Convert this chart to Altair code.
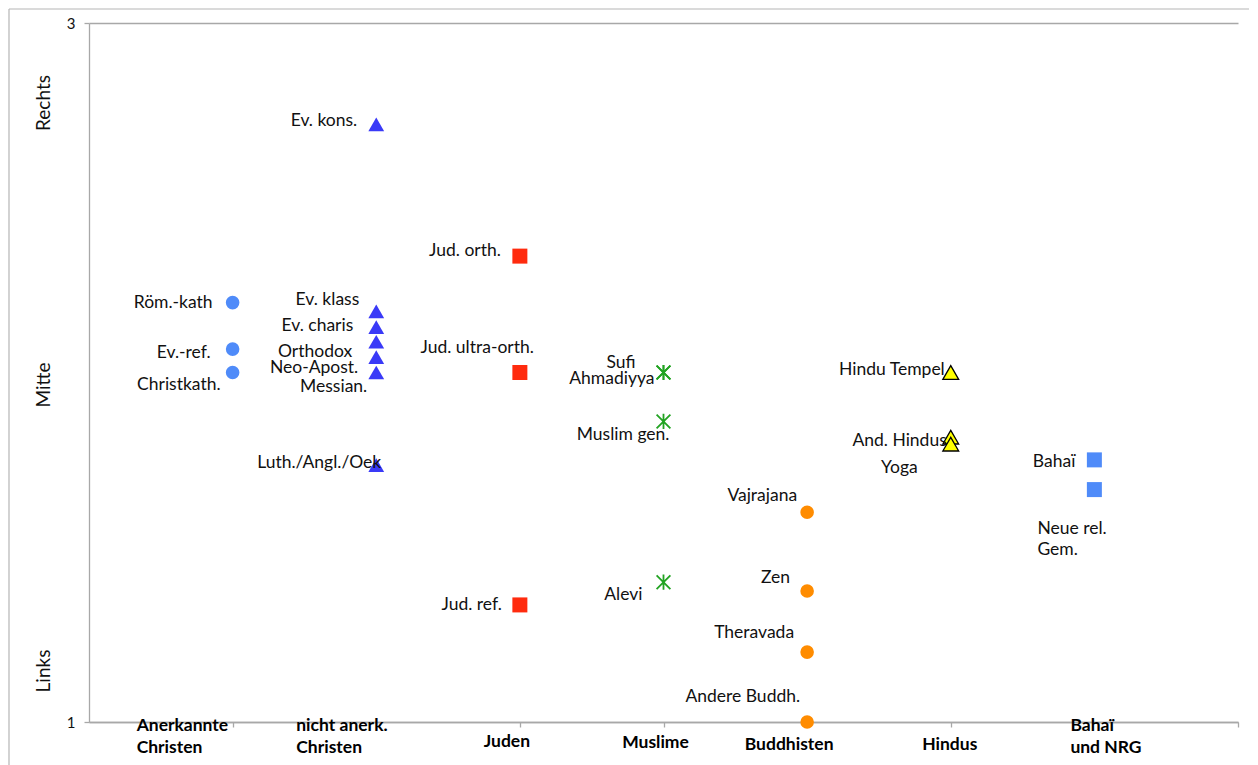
import altair as alt
import pandas as pd

# ---- data ----
names = ["Röm.-kath", "Ev.-ref.", "Christkath.",
         "Ev. kons.", "Ev. klass", "Ev. charis", "Orthodox", "Neo-Apost.", "Messian.", "Luth./Angl./Oek",
         "Jud. orth.", "Jud. ultra-orth.", "Jud. ref.",
         "Sufi", "Ahmadiyya", "Muslim gen.", "Alevi",
         "Vajrajana", "Zen", "Theravada", "Andere Buddh.",
         "Hindu Tempel", "And. Hindus", "Yoga",
         "Bahaï", "Neue rel.\nGem."]
group_idx = [1, 1, 1,
             2, 2, 2, 2, 2, 2, 2,
             3, 3, 3,
             4, 4, 4, 4,
             5, 5, 5, 5,
             6, 6, 6,
             7, 7]
values = [2.20, 2.067, 2.00,
          2.71, 2.175, 2.13, 2.088, 2.044, 2.00, 1.735,
          2.333, 2.00, 1.335,
          2.00, 2.00, 1.86, 1.40,
          1.60, 1.375, 1.20, 1.00,
          2.00, 1.815, 1.795,
          1.75, 1.665]
# label offsets (pixels) relative to their point
label_dx = [-20, -22, -12,
            -19, -17, -23, -24, -18, -9, 5,
            -19, 14, -18,
            -28, -9, 6, -21,
            -10, -17, -13, -7,
            -6, -4, -33,
            -19, -57]
label_dy = [0, 4, 12,
            -3, -11, -1, 10, 11, 14, -2,
            -5, -25, 0,
            -10, 6, 14, 13,
            -16, -13, -19, -25,
            -3, 4, 24,
            2, 39]
label_align = ["right"] * 25 + ["left"]

categories = ["Anerkannte\nChristen", "nicht anerk.\nChristen", "Juden", "Muslime",
              "Buddhisten", "Hindus", "Bahaï\nund NRG"]
cat_x = [1, 2, 3, 4, 5, 6, 7]
cat_dx = [-96, -80, -13, -8, -18, -1, -24]
cat_dy = [3.5, 3.5, 20, 21, 23, 23, 4]
cat_align = ["left", "left", "center", "center", "center", "center", "left"]

side_titles = ["Rechts", "Mitte", "Links"]
y_ticks = [1, 2, 3]
x_ticks = [1, 3, 4, 6, 8]

W, H = 1149, 699
X_DOM, Y_DOM = [0, 8], [1, 3]
PX_X = W / (X_DOM[1] - X_DOM[0])   # pixels per x unit
PX_Y = H / (Y_DOM[1] - Y_DOM[0])   # pixels per y unit

# ---- tables ----
pts = pd.DataFrame({"name": names, "x": group_idx, "y": values,
                    "dx": label_dx, "dy": label_dy, "align": label_align})
cats = pd.DataFrame({"cat": categories, "x": cat_x, "y": [1] * len(cat_x),
                     "dx": cat_dx, "dy": cat_dy, "align": cat_align})

FONT = "Lato"
GRAY = "#a8a8a8"

xscale = alt.Scale(domain=X_DOM, nice=False, zero=False)
yscale = alt.Scale(domain=Y_DOM, nice=False, zero=False)
xaxis = alt.Axis(values=x_ticks, labels=False, title=None, grid=False,
                 domainColor=GRAY, domainWidth=1.3, tickColor=GRAY, tickWidth=1.3, tickSize=5)
yaxis = alt.Axis(values=y_ticks, format="d", title=None, grid=True, gridColor=GRAY, gridWidth=1.3,
                 domainColor=GRAY, domainWidth=1.3, tickColor=GRAY, tickWidth=1.3, tickSize=5,
                 labelPadding=9, labelFont=FONT, labelFontSize=15, labelColor="#111111")


def X(field="x"):
    return alt.X(f"{field}:Q", scale=xscale, axis=xaxis)


def Y(field="y"):
    return alt.Y(f"{field}:Q", scale=yscale, axis=yaxis)


STAR = "M-1,-1L1,1M-1,1L1,-1M0,-1.1L0,1.1"
styles = {
    1: dict(shape="circle", filled=True, color="#4F8BF9", size=185),
    2: dict(shape="triangle-up", filled=True, color="#3A3AF7", size=250),
    3: dict(shape="square", filled=True, color="#FF2B0E", size=225),
    4: dict(shape=STAR, filled=False, color="#22A322", size=190, strokeWidth=1.8),
    5: dict(shape="circle", filled=True, color="#FF8C00", size=185),
    6: dict(shape="triangle-up", filled=True, fill="#FFFF00", stroke="#000000",
            strokeWidth=1.3, size=250),
    7: dict(shape="square", filled=True, color="#4F8BF9", size=225),
}

layers = []
for g, st in styles.items():
    layers.append(
        alt.Chart(pts).transform_filter(alt.datum.x == g)
        .mark_point(opacity=1, **st)
        .encode(x=X(), y=Y())
    )

for al in ["left", "right"]:
    layers.append(
        alt.Chart(pts).transform_filter(alt.datum.align == al)
        .transform_calculate(lx=f"datum.x + datum.dx / {PX_X}",
                             ly=f"datum.y - datum.dy / {PX_Y}")
        .mark_text(align=al, baseline="middle", font=FONT, fontSize=17.5, color="#111111",
                   lineBreak="\n", lineHeight=21)
        .encode(x=X("lx"), y=Y("ly"), text="name:N")
    )

for al in ["left", "center"]:
    layers.append(
        alt.Chart(cats).transform_filter(alt.datum.align == al)
        .transform_calculate(lx=f"datum.x + datum.dx / {PX_X}",
                             ly=f"datum.y - datum.dy / {PX_Y}")
        .mark_text(align=al, baseline="middle", font=FONT, fontSize=17.5, fontWeight="bold",
                   color="#000000", lineBreak="\n", lineHeight=22)
        .encode(x=X("lx"), y=Y("ly"), text="cat:N")
    )

one = pd.DataFrame({"a": [0]})
for t, ypix in zip(side_titles, [80, 362, 648]):
    layers.append(
        alt.Chart(one).mark_text(angle=270, align="center", baseline="middle", font=FONT,
                                 fontSize=19, color="#111111")
        .encode(x=alt.value(-45), y=alt.value(ypix), text=alt.value(t))
    )

# outer chart frame (left and top edges)
layers.append(alt.Chart(one).mark_rule(color="#b5b5b5", strokeWidth=1.2)
              .encode(x=alt.value(-80), y=alt.value(-14), y2=alt.value(770)))
layers.append(alt.Chart(one).mark_rule(color="#b5b5b5", strokeWidth=1.2)
              .encode(x=alt.value(-80), x2=alt.value(1160), y=alt.value(-14)))

chart = alt.layer(*layers).properties(
    width=W, height=H,
    autosize=alt.AutoSizeParams(type="none"),
    padding={"left": 81, "top": 15, "right": 12, "bottom": 50},
).configure_view(stroke=None)

chart.save("out.html", embed_options={"renderer": "svg", "actions": False})
